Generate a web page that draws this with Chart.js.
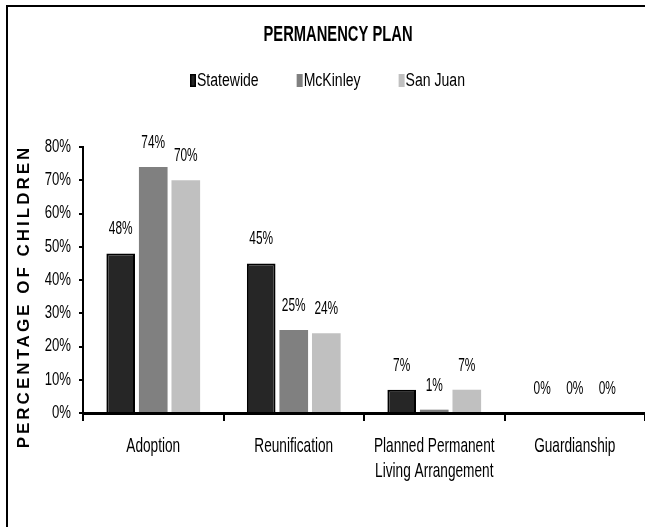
<!DOCTYPE html>
<html>
<head>
<meta charset="utf-8">
<script src="https://cdn.jsdelivr.net/npm/chart.js@4.4.1/dist/chart.umd.min.js"></script>
<style>
  html, body { margin: 0; padding: 0; background: #fff; overflow: hidden; }
  canvas { display: block; }
</style>
</head>
<body>
<canvas id="myChart" width="645" height="527"></canvas>
<script>
const categories = ['Adoption', 'Reunification', ['Planned Permanent', 'Living Arrangement'], 'Guardianship'];
const statewide = [48, 45, 7, 0];
const mckinley = [74, 25, 1, 0];
const sanJuan = [70, 24, 7, 0];
const yTicks = [0, 10, 20, 30, 40, 50, 60, 70, 80];

const sans = "'Liberation Sans', Arial, sans-serif";

// the reference uses a condensed face, so squeeze Liberation Sans horizontally
function narrowText(ctx, text, x, y, font, sx, align, baseline) {
    ctx.save();
    ctx.translate(x, y);
    ctx.scale(sx, 1);
    ctx.font = font;
    ctx.textAlign = align;
    ctx.textBaseline = baseline || 'middle';
    ctx.fillText(text, 0, 0);
    ctx.restore();
}

function narrowWidth(ctx, text, font, sx) {
    ctx.save();
    ctx.font = font;
    const w = ctx.measureText(text).width * sx;
    ctx.restore();
    return w;
}

const extras = {
    id: 'extras',
    afterDraw(chart) {
        const ctx = chart.ctx;
        ctx.save();
        ctx.fillStyle = '#000';

        // frame: only top and left edges are inside the picture
        ctx.fillRect(6, 5, chart.width, 2);
        ctx.fillRect(6, 5, 2, chart.height);

        // title
        narrowText(ctx, 'PERMANENCY PLAN', 338, 35, 'bold 22px ' + sans, 0.67, 'center');

        // legend
        const legFont = '18px ' + sans;
        let x = 190;
        chart.data.datasets.forEach(ds => {
            ctx.fillStyle = ds.backgroundColor;
            ctx.fillRect(x, 74, 6, 13);
            if (ds.borderWidth) {
                ctx.strokeStyle = ds.borderColor;
                ctx.lineWidth = 1.5;
                ctx.strokeRect(x + 0.75, 74.75, 4.5, 11.5);
            }
            ctx.fillStyle = '#000';
            narrowText(ctx, ds.label, x + 7, 81, legFont, 0.78, 'left');
            x += 7 + narrowWidth(ctx, ds.label, legFont, 0.78) + 38;
        });

        // y axis title
        ctx.save();
        ctx.translate(24, 298);
        ctx.rotate(-Math.PI / 2);
        ctx.font = 'bold 17px ' + sans;
        ctx.textAlign = 'center';
        ctx.textBaseline = 'middle';
        ctx.letterSpacing = '3px';
        ctx.fillText('PERCENTAGE OF CHILDREN', 1.5, 0);
        ctx.restore();

        // y tick labels
        const yScale = chart.scales.y;
        yScale.ticks.forEach(t => {
            narrowText(ctx, t.value + '%', 71, yScale.getPixelForValue(t.value), '18px ' + sans, 0.73, 'right');
        });

        // x tick labels
        const xScale = chart.scales.x;
        chart.data.labels.forEach((lab, i) => {
            const lines = Array.isArray(lab) ? lab : [lab];
            const px = xScale.getPixelForTick(i);
            lines.forEach((line, k) => {
                narrowText(ctx, line, px, 452 + k * 25, '21px ' + sans, 0.65, 'center', 'alphabetic');
            });
        });

        // value labels
        chart.data.datasets.forEach((ds, i) => {
            chart.getDatasetMeta(i).data.forEach((bar, j) => {
                narrowText(ctx, ds.data[j] + '%', bar.x, bar.y - 24, '18px ' + sans, 0.66, 'center');
            });
        });

        ctx.restore();
    }
};

const ctx = document.getElementById('myChart').getContext('2d');
const myChart = new Chart(ctx, {
    type: 'bar',
    data: {
        labels: categories,
        datasets: [
            {
                label: 'Statewide',
                data: statewide,
                backgroundColor: '#262626',
                borderColor: '#000',
                borderWidth: 2
            },
            {
                label: 'McKinley',
                data: mckinley,
                backgroundColor: '#808080',
                borderWidth: 0
            },
            {
                label: 'San Juan',
                data: sanJuan,
                backgroundColor: '#c0c0c0',
                borderWidth: 0
            }
        ]
    },
    options: {
        responsive: false,
        animation: false,
        devicePixelRatio: 1,
        categoryPercentage: 0.695,
        barPercentage: 0.88,
        layout: { padding: { top: 147, right: -2, left: 0, bottom: 0 } },
        plugins: {
            legend: { display: false },
            title: { display: false },
            tooltip: { enabled: false }
        },
        scales: {
            x: {
                grid: {
                    drawOnChartArea: false,
                    drawTicks: true,
                    tickLength: 8,
                    color: '#000',
                    lineWidth: 2
                },
                border: { display: true, color: '#000', width: 3 },
                ticks: {
                    color: 'rgba(0,0,0,0)',
                    maxRotation: 0,
                    autoSkip: false
                },
                afterFit(scale) { scale.height = 114; }
            },
            y: {
                min: 0,
                max: 80,
                afterBuildTicks(scale) { scale.ticks = yTicks.map(v => ({ value: v })); },
                grid: {
                    drawOnChartArea: false,
                    drawTicks: true,
                    tickLength: 4,
                    color: '#000',
                    lineWidth: 2
                },
                border: { display: true, color: '#000', width: 2 },
                ticks: { color: 'rgba(0,0,0,0)' },
                afterFit(scale) { scale.width = 83; }
            }
        }
    },
    plugins: [extras]
});
</script>
</body>
</html>
